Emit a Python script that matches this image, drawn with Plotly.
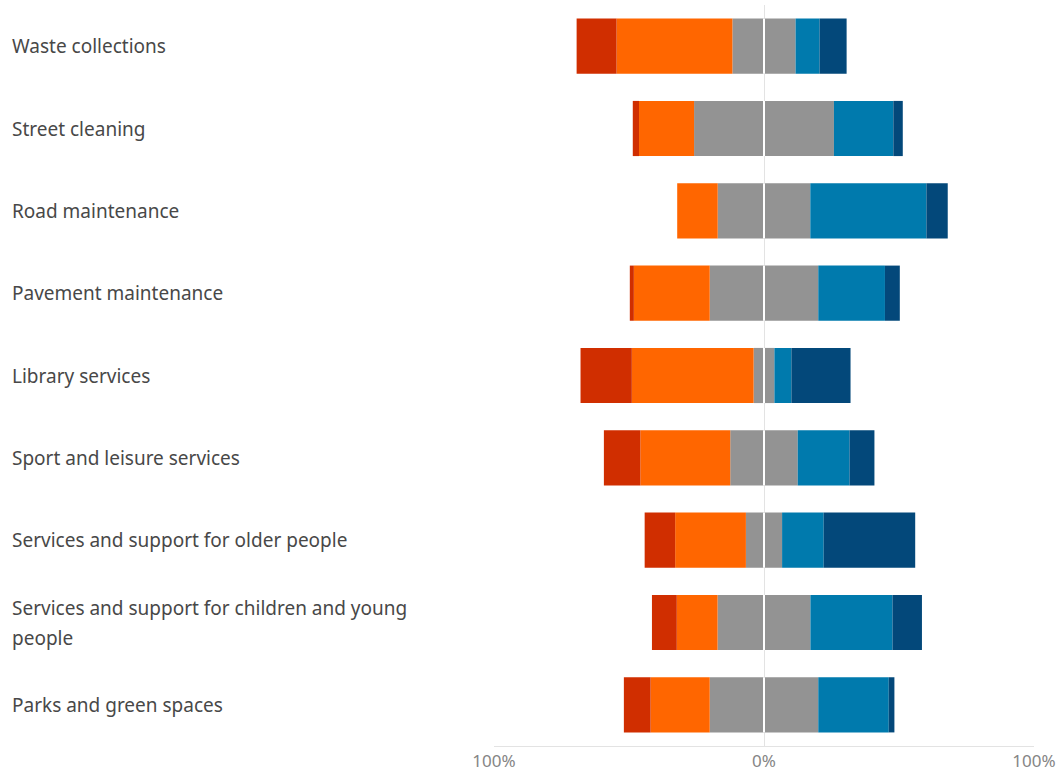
import plotly.graph_objects as go

# Satisfaction survey results by council service (% of respondents)
services = [
    "Waste collections",
    "Street cleaning",
    "Road maintenance",
    "Pavement maintenance",
    "Library services",
    "Sport and leisure services",
    "Services and support for older people",
    "Services and support for children and young<br>people",
    "Parks and green spaces",
]
very_dissatisfied = [14.8, 2.3, 0.0, 1.5, 19.0, 13.5, 11.3, 9.2, 9.9]
fairly_dissatisfied = [42.9, 20.4, 15.0, 28.1, 45.1, 33.3, 26.2, 15.1, 21.9]
neutral = [23.4, 51.8, 34.3, 40.2, 7.7, 25.0, 13.4, 34.4, 40.2]
fairly_satisfied = [8.9, 22.0, 43.0, 24.7, 6.3, 19.2, 15.4, 30.4, 26.1]
very_satisfied = [10.0, 3.5, 7.9, 5.5, 21.9, 9.2, 33.9, 10.9, 2.1]

tick_vals = [-100, 0, 100]
tick_text = ["100%", "0%", "100%"]

C_VERY_DIS = "#D02E00"
C_FAIR_DIS = "#FF6600"
C_NEUTRAL = "#939393"
C_FAIR_SAT = "#007AAD"
C_VERY_SAT = "#03487A"

FONT = "Noto Sans, Open Sans, sans-serif"

fig = go.Figure()

def add(vals, color, name, sign):
    fig.add_trace(go.Bar(
        y=list(range(len(services))),
        x=[sign * v for v in vals],
        orientation="h",
        marker=dict(color=color, line=dict(width=0)),
        name=name,
        showlegend=False,
        hoverinfo="skip",
    ))

# Neutral split across zero, then outward on each side
add([v / 2 for v in neutral], C_NEUTRAL, "Neutral", -1)
add([v / 2 for v in neutral], C_NEUTRAL, "Neutral", 1)
add(fairly_dissatisfied, C_FAIR_DIS, "Fairly dissatisfied", -1)
add(fairly_satisfied, C_FAIR_SAT, "Fairly satisfied", 1)
add(very_dissatisfied, C_VERY_DIS, "Very dissatisfied", -1)
add(very_satisfied, C_VERY_SAT, "Very satisfied", 1)

bar_frac = 0.67
# White divider at zero across each bar
for i in range(len(services)):
    fig.add_shape(type="line", xref="x", yref="y", x0=0, x1=0,
                  y0=i - bar_frac / 2, y1=i + bar_frac / 2,
                  line=dict(color="white", width=2), layer="above")

# Category labels, left aligned in the margin; wrapped labels get wider line spacing
line_gap = 30
for i, name in enumerate(services):
    lines = name.split("<br>")
    n = len(lines)
    for k, line in enumerate(lines):
        fig.add_annotation(
            x=-0.8926, xref="paper", y=i, yref="y",
            xshift=-2,
            yshift=((n - 1) / 2 - k) * line_gap,
            text=line, showarrow=False, xanchor="left", yanchor="middle",
            align="left",
            font=dict(family=FONT, size=19, color="#484848"),
        )

fig.update_layout(
    width=1062, height=776,
    margin=dict(l=494, r=28, t=5, b=30),
    barmode="relative",
    bargap=1 - bar_frac,
    plot_bgcolor="white",
    paper_bgcolor="white",
    font=dict(family=FONT, color="#858585"),
    xaxis=dict(
        range=[-100, 100],
        tickvals=tick_vals,
        ticktext=tick_text,
        showgrid=True,
        gridcolor="#e3e3e3",
        gridwidth=1,
        zeroline=False,
        showline=True,
        linecolor="#e3e3e3",
        linewidth=1,
        tickfont=dict(size=17, color="#858585"),
        ticks="",
        fixedrange=True,
    ),
    yaxis=dict(
        range=[len(services) - 0.5, -0.5],
        showticklabels=False,
        showgrid=False,
        zeroline=False,
        fixedrange=True,
    ),
)

fig.write_html("out.html")
